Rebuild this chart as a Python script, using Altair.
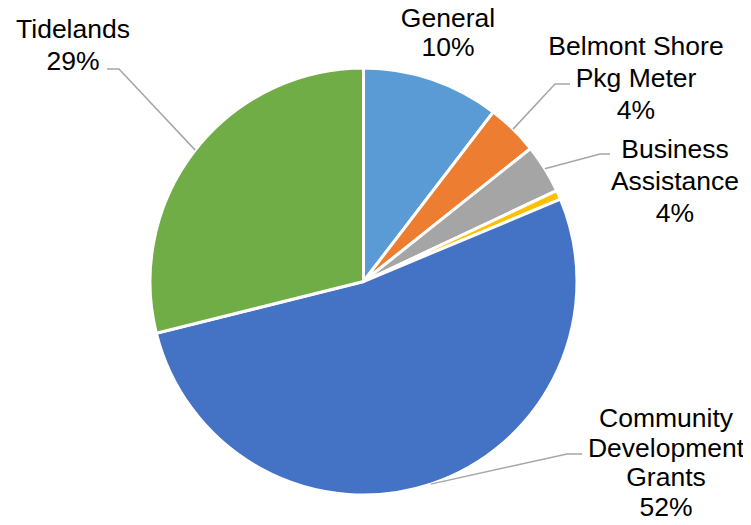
import math
import altair as alt
import pandas as pd

# ---- data ----
categories = ["General", "Belmont Shore\nPkg Meter", "Business\nAssistance", "Other",
              "Community\nDevelopment\nGrants", "Tidelands"]
values = [10.4, 3.9, 3.7, 0.7, 52.4, 28.9]
colors = ["#5B9BD5", "#ED7D31", "#A5A5A5", "#FFC000", "#4472C4", "#70AD47"]
show_label = [True, True, True, False, True, True]

# ---- layout (pixel positions, page coords minus 8px margin) ----
M = 8
CX, CY, R = 363.5 - M, 281.5 - M, 213.5
label_pos = {  # text center x, first baseline y, line height
    "General": (448, 27, 29),
    "Belmont Shore\nPkg Meter": (636, 55, 32),
    "Business\nAssistance": (675, 158, 32),
    "Community\nDevelopment\nGrants": (666, 427, 29.5),
    "Tidelands": (73, 38, 32),
}
leader = {  # elbow, end
    "Belmont Shore\nPkg Meter": ((555, 84), (570, 84)),
    "Business\nAssistance": ((600, 154), (610, 154)),
    "Community\nDevelopment\nGrants": ((567, 454), (582, 454)),
    "Tidelands": ((119, 69), (107, 69)),
}

total = sum(values)
pie_df = pd.DataFrame({"category": categories, "value": values, "order": range(len(values))})

# labels
lab_rows = []
for c, v, s in zip(categories, values, show_label):
    if not s:
        continue
    x, y, lh = label_pos[c]
    lab_rows.append({"text": f"{c}\n{round(v / total * 100)}%", "x": x - M, "y": y - M, "lh": lh})
lab_df = pd.DataFrame(lab_rows)

# leader lines: anchor at slice mid-angle on the rim
line_rows = []
cum = 0.0
for c, v in zip(categories, values):
    mid = (cum + v / 2) / total * 2 * math.pi
    cum += v
    if c not in leader:
        continue
    ax = CX + R * math.sin(mid)
    ay = CY - R * math.cos(mid)
    (ex, ey), (fx, fy) = leader[c]
    pts = [(ax, ay), (ex - M, ey - M), (fx - M, fy - M)]
    for i, (px, py) in enumerate(pts):
        line_rows.append({"cat": c, "i": i, "x": px, "y": py})
line_df = pd.DataFrame(line_rows)

pie = alt.Chart(pie_df).mark_arc(radius=R, stroke="white", strokeWidth=3).encode(
    theta=alt.Theta("value:Q", stack=True),
    color=alt.Color("category:N", scale=alt.Scale(domain=categories, range=colors), legend=None),
    order=alt.Order("order:Q"),
    x=alt.value(CX),
    y=alt.value(CY),
)

lines = alt.Chart(line_df).mark_line(color="#A6A6A6", strokeWidth=1.5).encode(
    x=alt.X("x:Q", scale=None),
    y=alt.Y("y:Q", scale=None),
    detail="cat:N",
    order="i:Q",
)


def text_layer(lh):
    return alt.Chart(lab_df[lab_df["lh"] == lh]).mark_text(
        font="Liberation Sans", fontSize=26.5, color="#000000", align="center",
        baseline="alphabetic", lineBreak="\n", lineHeight=lh,
    ).encode(
        x=alt.X("x:Q", scale=None),
        y=alt.Y("y:Q", scale=None),
        text="text:N",
    )


texts = [text_layer(lh) for lh in sorted(lab_df["lh"].unique())]

chart = alt.layer(pie, lines, *texts).properties(
    width=735, height=509, autosize="none", padding=0
).configure_view(stroke=None)

chart.save("out.html", embed_options={"renderer": "svg", "actions": False})
